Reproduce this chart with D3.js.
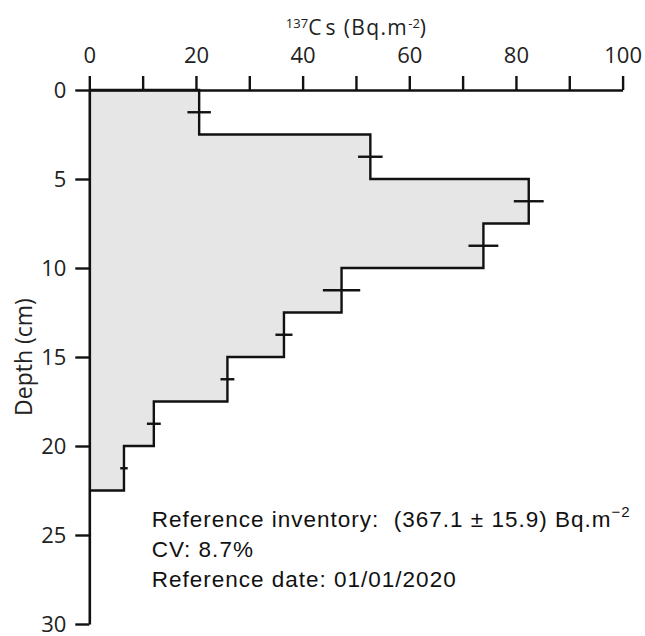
<!DOCTYPE html>
<html><head><meta charset="utf-8">
<script src="https://cdn.jsdelivr.net/npm/d3@7"></script>
<style>html,body{margin:0;padding:0;background:#fff;}svg{display:block;}</style>
</head><body>
<svg id="chart" width="645" height="636"></svg>
<script>
// Data
const depthTop    = [0, 2.5, 5, 7.5, 10, 12.5, 15, 17.5, 20];
const depthBottom = [2.5, 5, 7.5, 10, 12.5, 15, 17.5, 20, 22.5];
const activity    = [20.6, 52.7, 82.4, 73.9, 47.3, 36.5, 25.9, 12.1, 6.5];
const uncertainty = [2.2, 2.3, 2.8, 2.8, 3.5, 1.6, 1.3, 1.3, 0.7];
const xTicks = [0, 10, 20, 30, 40, 50, 60, 70, 80, 90, 100];
const yTicks = [0, 5, 10, 15, 20, 25, 30];
const notes = ["CV: 8.7%", "Reference date: 01/01/2020"];

const svg = d3.select("#chart");
const x = d3.scaleLinear().domain([0, 100]).range([89.3, 622.6]);
const y = d3.scaleLinear().domain([0, 30]).range([90, 624]);

// profile polygon
const pts = [[0, 0]];
activity.forEach((v, i) => { pts.push([v, depthTop[i]]); pts.push([v, depthBottom[i]]); });
pts.push([0, depthBottom[depthBottom.length - 1]]);
const line = d3.line().x(d => x(d[0])).y(d => y(d[1]));

svg.append("path").attr("d", line(pts) + "Z")
  .attr("fill", "#e6e6e6").attr("stroke", "none");
svg.append("path").attr("d", line(pts))
  .attr("fill", "none").attr("stroke", "#111").attr("stroke-width", 2.4);

// error bars (horizontal) at mid-layer
svg.append("g").selectAll("line").data(activity).join("line")
  .attr("x1", (d, i) => x(d - uncertainty[i]))
  .attr("x2", (d, i) => x(d + uncertainty[i]))
  .attr("y1", (d, i) => y((depthTop[i] + depthBottom[i]) / 2))
  .attr("y2", (d, i) => y((depthTop[i] + depthBottom[i]) / 2))
  .attr("stroke", "#111").attr("stroke-width", 2.4);

// axes
const axFont = "'Open Sans', sans-serif";
const topAx = svg.append("g").attr("transform", `translate(0,${y(0)})`)
  .call(d3.axisTop(x).tickValues(xTicks).tickSize(14).tickSizeOuter(0).tickPadding(13)
    .tickFormat(d => d % 20 === 0 ? d : ""));
const leftAx = svg.append("g").attr("transform", `translate(${x(0)},0)`)
  .call(d3.axisLeft(y).tickValues(yTicks).tickSize(14).tickSizeOuter(0).tickPadding(9));
[topAx, leftAx].forEach(g => {
  g.selectAll("path.domain").attr("stroke", "#111").attr("stroke-width", 2.6);
  g.selectAll(".tick line").attr("stroke", "#111").attr("stroke-width", 2.4);
  g.selectAll(".tick text").attr("fill", "#222").style("font-family", axFont).style("font-size", "22px");
});
topAx.selectAll(".tick text").attr("dy", "0");
leftAx.selectAll(".tick text").attr("dy", "0.32em");

// axis titles
const t = svg.append("text").attr("x", x(50)).attr("y", 35).attr("text-anchor", "middle")
  .attr("fill", "#222").style("font-family", axFont).style("font-size", "21px");
t.append("tspan").text("137").style("font-size", "13px").attr("dy", "-7");
t.append("tspan").text("C").attr("dy", "7").attr("letter-spacing", "4");
t.append("tspan").text("s (Bq.m").attr("letter-spacing", "1.4");
t.append("tspan").text("-2").style("font-size", "13px").attr("dy", "-7");
t.append("tspan").text(")").attr("dy", "7");

svg.append("text").attr("transform", `translate(32,${y(15)}) rotate(-90)`)
  .attr("text-anchor", "middle").attr("fill", "#222")
  .style("font-family", axFont).style("font-size", "23px").text("Depth (cm)");

// annotations
const nFont = "'Liberation Sans', Arial, sans-serif";
const l1 = svg.append("text").attr("x", 151.7).attr("y", 527).attr("fill", "#111")
  .style("font-family", nFont).style("font-size", "22.5px").style("white-space", "pre")
  .attr("letter-spacing", "1");
l1.append("tspan").text("Reference inventory:  (367.1 ± 15.9) Bq.m");
l1.append("tspan").text("−2").style("font-size", "15px").attr("dy", "-10");
notes.forEach((s, i) => {
  svg.append("text").attr("x", 151.7).attr("y", 557 + i * 30).attr("fill", "#111")
    .attr("letter-spacing", "1")
    .style("font-family", nFont).style("font-size", "22.5px").text(s);
});
</script>
</body></html>
